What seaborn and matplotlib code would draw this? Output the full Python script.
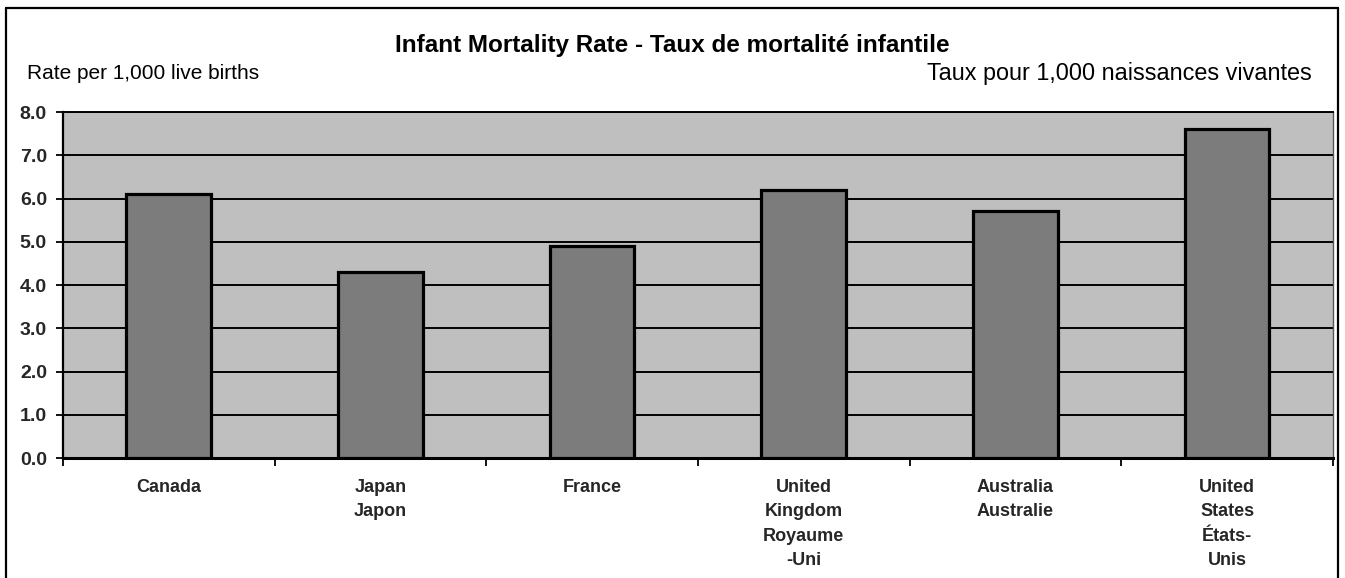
import numpy as np
import pandas as pd
import matplotlib
matplotlib.use("Agg")
import matplotlib.pyplot as plt
from matplotlib.lines import Line2D
from matplotlib.ticker import FixedLocator, FormatStrFormatter
import seaborn as sns

# ── Data ──────────────────────────────────────────────────────────────────────
countries = [
    "Canada",
    "Japan\nJapon",
    "France",
    "United\nKingdom\nRoyaume\n-Uni",
    "Australia\nAustralie",
    "United\nStates\nÉtats-\nUnis",
]
rates = [6.1, 4.3, 4.9, 6.2, 5.7, 7.6]
y_ticks = [0, 1, 2, 3, 4, 5, 6, 7, 8]

df = pd.DataFrame({"country": countries, "rate": rates})

# ── Style ─────────────────────────────────────────────────────────────────────
BG_PLOT = "#bfbfbf"
BAR_COLOR = "#7c7c7c"

sns.set_theme(style="white")
plt.rcParams["font.family"] = ["Liberation Sans", "DejaVu Sans"]

fig = plt.figure(figsize=(13.45, 5.78), dpi=100)
fig.patch.set_facecolor("white")
ax = fig.add_axes([0.0468, 0.2076, 0.9442, 0.5986])
ax.set_facecolor(BG_PLOT)

sns.barplot(
    data=df, x="country", y="rate", ax=ax,
    color=BAR_COLOR, saturation=1, width=0.4,
    edgecolor="black", linewidth=2.3, zorder=3,
)

# ── Axes ──────────────────────────────────────────────────────────────────────
ax.set_ylim(0, 8)
ax.set_xlim(-0.5, len(countries) - 0.5)
ax.set_yticks(y_ticks)
ax.yaxis.set_major_formatter(FormatStrFormatter("%.1f"))
for y in y_ticks[1:]:
    ax.axhline(y, color="black", linewidth=1.4, zorder=1)

ax.set_xlabel("")
ax.set_ylabel("")
ax.tick_params(axis="y", direction="out", length=5, width=1.3, color="black",
               labelsize=14, pad=6.5, left=True)
for lbl in ax.get_yticklabels():
    lbl.set_fontweight("bold")
ax.tick_params(axis="x", which="major", length=0, labelsize=13, pad=15)
ax.xaxis.set_minor_locator(FixedLocator(np.arange(-0.5, len(countries), 1.0)))
ax.tick_params(axis="x", which="minor", direction="out", length=6, width=1.3,
               color="black", bottom=True)
for lbl in ax.get_xticklabels():
    lbl.set_linespacing(1.58)
    lbl.set_va("top")
    lbl.set_fontweight("bold")

ax.spines["left"].set_color("black")
ax.spines["left"].set_linewidth(1.6)
ax.spines["bottom"].set_color("black")
ax.spines["bottom"].set_linewidth(2.2)
ax.spines["top"].set_color("black")
ax.spines["top"].set_linewidth(1.4)
ax.spines["right"].set_color("#555555")
ax.spines["right"].set_linewidth(1.0)

# ── Texts ─────────────────────────────────────────────────────────────────────
fig.text(0.5, 0.921, "Infant Mortality Rate - Taux de mortalité infantile",
         ha="center", va="center", fontsize=17.5, fontweight="bold", color="black")
fig.text(0.020, 0.873, "Rate per 1,000 live births",
         ha="left", va="center", fontsize=15, color="black")
fig.text(0.9755, 0.873, "Taux pour 1,000 naissances vivantes",
         ha="right", va="center", fontsize=16.8, color="black")

# ── Outer frame ───────────────────────────────────────────────────────────────
frame_kw = dict(color="black", linewidth=1.6, transform=fig.transFigure)
fig.add_artist(Line2D([0.0045, 0.9948], [0.986, 0.986], **frame_kw))
fig.add_artist(Line2D([0.0045, 0.0045], [0.0, 0.986], **frame_kw))
fig.add_artist(Line2D([0.9948, 0.9948], [0.0, 0.986], **frame_kw))

fig.savefig("out.png", dpi=100, facecolor="white")
